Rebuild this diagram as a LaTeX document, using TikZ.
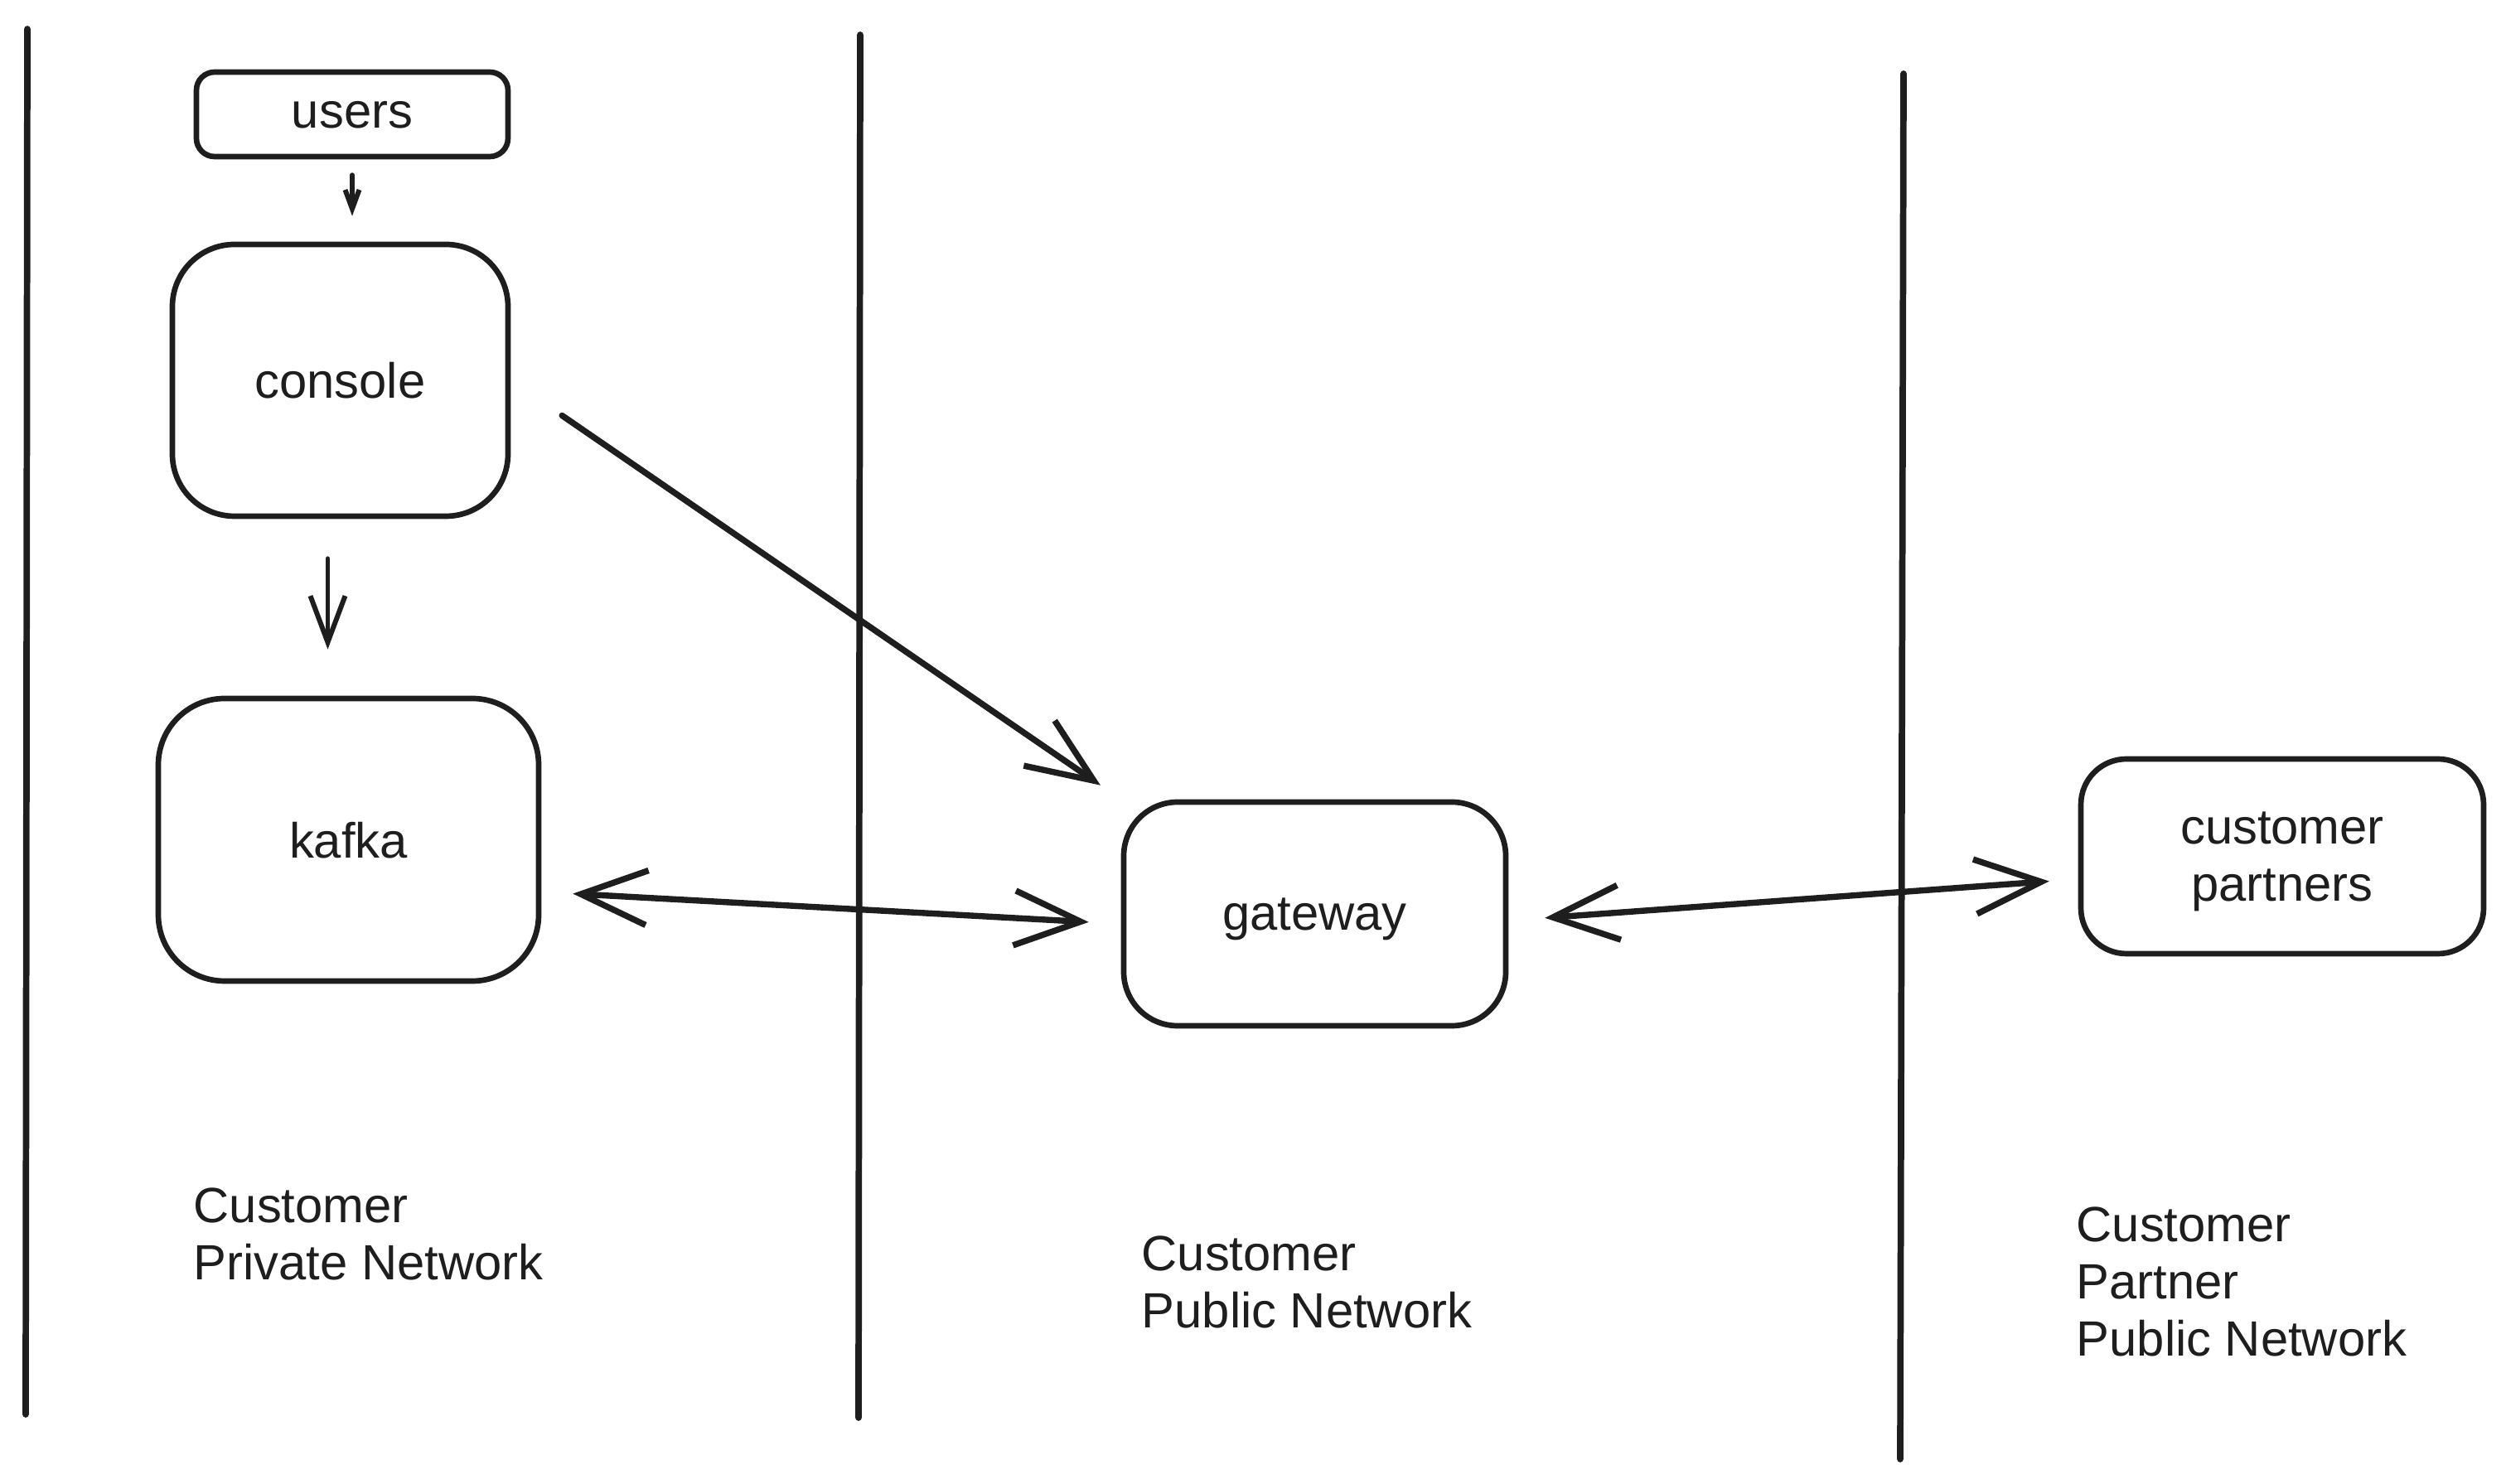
\documentclass[tikz,border=0pt]{standalone}
\usepackage{fontspec}
\setmainfont{Liberation Sans}
\usetikzlibrary{arrows.meta}
\definecolor{ink}{HTML}{1E1E1E}
\begin{document}
\begin{tikzpicture}[
    box/.style={draw=ink, line width=1.9pt, text=ink, align=center, inner sep=0pt, text depth=0pt},
    netlabel/.style={text=ink, align=left, anchor=north west, inner sep=0pt},
    divider/.style={draw=ink, line width=2.2pt, line cap=round},
    flow/.style={draw=ink, line width=1.7pt, line cap=round},
    bigtip/.style={arrows={-Straight Barb[length=0.8cm, width=0.66cm]}},
    twotips/.style={arrows={Straight Barb[length=0.8cm, width=0.66cm]-Straight Barb[length=0.8cm, width=0.66cm]}},
    font=\fontsize{17}{19.6}\selectfont]
  \useasboundingbox (0,0) rectangle (30.24,-17.91);
  % network borders
  \draw[divider] (0.33,-0.35) -- (0.31,-17.07);
  \draw[divider] (10.38,-0.42) -- (10.36,-17.11);
  \draw[divider] (22.97,-0.89) -- (22.93,-17.61);
  \draw
    (4.25,-1.38) node[box, minimum width=3.76cm, minimum height=1.02cm, rounded corners=0.22cm] (users){users}
    (4.105,-4.59) node[box, minimum width=4.05cm, minimum height=3.28cm, rounded corners=0.75cm] (console){console}
    (4.205,-10.135) node[box, minimum width=4.59cm, minimum height=3.41cm, rounded corners=0.8cm] (kafka){kafka}
    (15.865,-11.03) node[box, minimum width=4.61cm, minimum height=2.70cm, rounded corners=0.65cm] (gateway){gateway}
    (27.54,-10.335) node[box, minimum width=4.86cm, minimum height=2.35cm, rounded corners=0.55cm] (partners){customer\\partners};
  \draw
    (2.33,-14.33) node[netlabel] (private){Customer\\Private Network}
    (13.77,-14.91) node[netlabel] (public){Customer\\Public Network}
    (25.05,-14.56) node[netlabel] (partnernet){Customer\\Partner\\Public Network};
  \begin{scope}[flow]
    \draw[-{Straight Barb[length=0.23cm, width=0.17cm]}, shorten <=0.19cm, shorten >=0.31cm]
      (users.south) to (users.south |- console.north);
    \draw[-{Straight Barb[length=0.56cm, width=0.42cm]}, shorten <=0.48cm, shorten >=0.56cm]
      ([xshift=-0.15cm]console.south) to ([xshift=-0.15cm]console.south |- kafka.north);
    \draw[bigtip, line width=2.1pt, shorten <=0.75cm, shorten >=0.3cm]
      (console.east) to (gateway.north west);
    \draw[twotips, line width=2.1pt, shorten <=0.38cm, shorten >=0.39cm]
      ([yshift=-0.63cm]kafka.east) to ([yshift=-0.12cm]gateway.west);
    \draw[twotips, line width=2.1pt, shorten <=0.44cm, shorten >=0.35cm]
      ([yshift=-0.08cm]gateway.east) to ([yshift=-0.275cm]partners.west);
  \end{scope}
\end{tikzpicture}
\end{document}
